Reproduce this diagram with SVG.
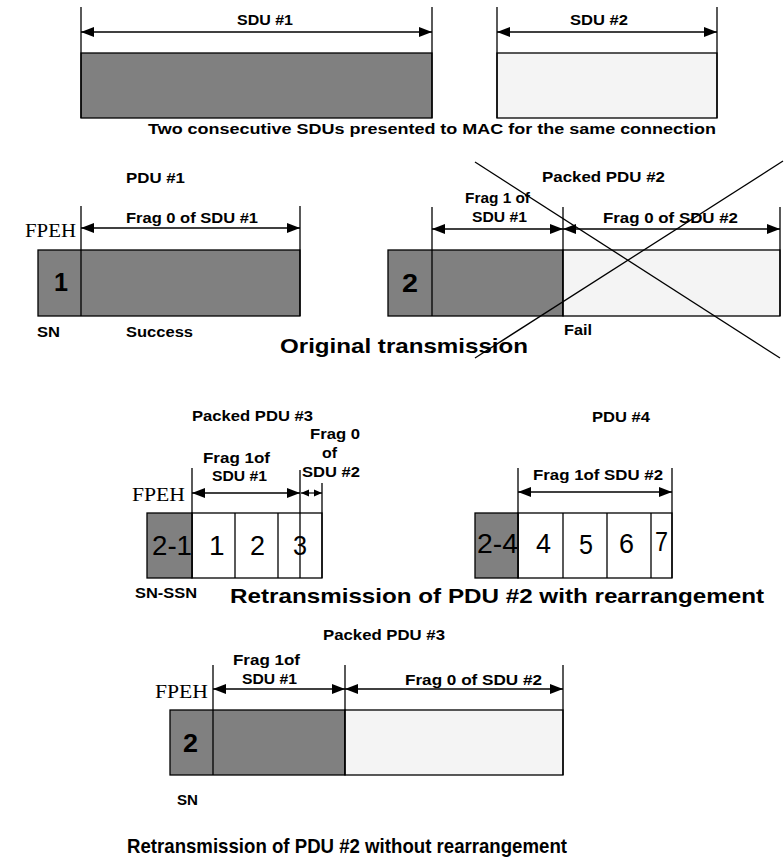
<svg xmlns="http://www.w3.org/2000/svg" width="784" height="863" viewBox="0 0 784 863">
<style>
.ln{stroke:#000;stroke-width:1.3;fill:none}
.dk{fill:#808080;stroke:#000;stroke-width:1.3}
.lt{fill:#f4f4f4;stroke:#000;stroke-width:1.3}
.wh{fill:#fff;stroke:#000;stroke-width:1.3}
.ar{stroke:#000;stroke-width:1.3;fill:none;marker-start:url(#ah);marker-end:url(#ah)}
.ars{stroke:#000;stroke-width:1.2;fill:none;marker-start:url(#ahs);marker-end:url(#ahs)}
.s{font-family:"Liberation Sans",Arial,sans-serif;font-size:14px;font-weight:bold;fill:#000}
.big{font-family:"Liberation Sans",Arial,sans-serif;font-size:21px;font-weight:bold;fill:#000}
.num{font-family:"Liberation Sans",Arial,sans-serif;font-size:26px;font-weight:bold;fill:#000}
.num2{font-family:"Liberation Sans",Arial,sans-serif;font-size:28px;fill:#000}
.ser{font-family:"Liberation Serif","Times New Roman",serif;font-size:18px;fill:#000}
</style>
<defs>
<marker id="ah" markerUnits="userSpaceOnUse" markerWidth="13" markerHeight="10" refX="13" refY="5" orient="auto-start-reverse"><path d="M0,0 L13,5 L0,10 z" fill="#000"/></marker>
<marker id="ahs" markerUnits="userSpaceOnUse" markerWidth="8" markerHeight="8" refX="8" refY="4" orient="auto-start-reverse"><path d="M0,0.5 L8,4 L0,7.5 z" fill="#000"/></marker>
</defs>

<g id="sdu1">
<rect class="dk" x="81" y="53" width="351" height="65"/>
<line class="ln" x1="81" y1="7" x2="81" y2="118"/>
<line class="ln" x1="432" y1="7" x2="432" y2="118"/>
<text class="s" x="237" y="25" textLength="56" lengthAdjust="spacingAndGlyphs">SDU #1</text>
</g>
<g id="sdu2">
<rect class="lt" x="497" y="53" width="220" height="65"/>
<line class="ln" x1="497" y1="7" x2="497" y2="118"/>
<line class="ln" x1="717" y1="7" x2="717" y2="118"/>
<text class="s" x="570" y="25" textLength="58" lengthAdjust="spacingAndGlyphs">SDU #2</text>
</g>
<text class="s" x="148" y="134" textLength="568" lengthAdjust="spacingAndGlyphs">Two consecutive SDUs presented to MAC for the same connection</text>

<g id="pdu1">
<rect class="dk" x="38" y="250" width="262" height="66"/>
<line class="ln" x1="81" y1="206" x2="81" y2="316"/>
<line class="ln" x1="300" y1="206" x2="300" y2="316"/>
<text class="s" x="126" y="183" textLength="59" lengthAdjust="spacingAndGlyphs">PDU #1</text>
<text class="s" x="126" y="223" textLength="132" lengthAdjust="spacingAndGlyphs">Frag 0 of SDU #1</text>
<text class="ser" x="25" y="237" textLength="51" lengthAdjust="spacingAndGlyphs">FPEH</text>
<text class="num" x="54" y="291" textLength="14" lengthAdjust="spacingAndGlyphs">1</text>
<text class="s" x="37" y="337" textLength="23" lengthAdjust="spacingAndGlyphs">SN</text>
<text class="s" x="126" y="337" textLength="67" lengthAdjust="spacingAndGlyphs">Success</text>
</g>

<g id="pdu2">
<rect class="dk" x="388" y="250" width="175" height="66"/>
<rect class="lt" x="563" y="250" width="217" height="66"/>
<line class="ln" x1="432" y1="207" x2="432" y2="316"/>
<line class="ln" x1="563" y1="207" x2="563" y2="316"/>
<line class="ln" x1="780" y1="207" x2="780" y2="316"/>
<text class="s" x="542" y="182" textLength="123" lengthAdjust="spacingAndGlyphs">Packed PDU #2</text>
<text class="s" x="465" y="203" textLength="65" lengthAdjust="spacingAndGlyphs">Frag 1 of</text>
<text class="s" x="472" y="222" textLength="55" lengthAdjust="spacingAndGlyphs">SDU #1</text>
<text class="s" x="603" y="223" textLength="135" lengthAdjust="spacingAndGlyphs">Frag 0 of SDU #2</text>
<text class="num" x="402" y="292" textLength="16" lengthAdjust="spacingAndGlyphs">2</text>
<text class="s" x="564" y="335" textLength="28" lengthAdjust="spacingAndGlyphs">Fail</text>
<line class="ln" x1="475" y1="162" x2="780" y2="358" stroke-width="1"/>
<line class="ln" x1="783" y1="161" x2="475" y2="358" stroke-width="1"/>
</g>
<text class="big" x="280" y="353" textLength="248" lengthAdjust="spacingAndGlyphs">Original transmission</text>

<g id="pdu3r">
<rect class="wh" x="192" y="513" width="130" height="65"/>
<rect class="dk" x="147" y="513" width="45" height="65"/>
<line class="ln" x1="192" y1="468" x2="192" y2="578"/>
<line class="ln" x1="235" y1="513" x2="235" y2="578"/>
<line class="ln" x1="278" y1="513" x2="278" y2="578"/>
<line class="ln" x1="300" y1="470" x2="300" y2="578"/>
<line class="ln" x1="322" y1="483" x2="322" y2="578"/>
<text class="s" x="192" y="421" textLength="121" lengthAdjust="spacingAndGlyphs">Packed PDU #3</text>
<text class="s" x="310" y="439" textLength="50" lengthAdjust="spacingAndGlyphs">Frag 0</text>
<text class="s" x="322" y="458" textLength="15" lengthAdjust="spacingAndGlyphs">of</text>
<text class="s" x="302" y="477" textLength="58" lengthAdjust="spacingAndGlyphs">SDU #2</text>
<text class="s" x="203" y="463" textLength="67" lengthAdjust="spacingAndGlyphs">Frag 1of</text>
<text class="s" x="212" y="481" textLength="55" lengthAdjust="spacingAndGlyphs">SDU #1</text>
<text class="ser" x="132" y="501" textLength="53" lengthAdjust="spacingAndGlyphs">FPEH</text>
<text class="num2" x="152" y="555" textLength="40" lengthAdjust="spacingAndGlyphs">2-1</text>
<text class="num2" x="209" y="555">1</text>
<text class="num2" x="250" y="555" textLength="15" lengthAdjust="spacingAndGlyphs">2</text>
<text class="num2" x="293" y="555" textLength="14" lengthAdjust="spacingAndGlyphs">3</text>
<text class="s" x="135" y="598" textLength="62" lengthAdjust="spacingAndGlyphs">SN-SSN</text>
</g>

<g id="pdu4">
<rect class="wh" x="518" y="513" width="154" height="65"/>
<rect class="dk" x="475" y="513" width="43" height="65"/>
<line class="ln" x1="518" y1="468" x2="518" y2="578"/>
<line class="ln" x1="563" y1="513" x2="563" y2="578"/>
<line class="ln" x1="607" y1="513" x2="607" y2="578"/>
<line class="ln" x1="651" y1="513" x2="651" y2="578"/>
<line class="ln" x1="672" y1="468" x2="672" y2="578"/>
<text class="s" x="592" y="422" textLength="58" lengthAdjust="spacingAndGlyphs">PDU #4</text>
<text class="s" x="533" y="480" textLength="130" lengthAdjust="spacingAndGlyphs">Frag 1of SDU #2</text>
<text class="num2" x="477" y="553" textLength="41" lengthAdjust="spacingAndGlyphs">2-4</text>
<text class="num2" x="536" y="553" textLength="15" lengthAdjust="spacingAndGlyphs">4</text>
<text class="num2" x="579" y="554" textLength="14" lengthAdjust="spacingAndGlyphs">5</text>
<text class="num2" x="619" y="553" textLength="15" lengthAdjust="spacingAndGlyphs">6</text>
<text class="num2" x="655" y="551" textLength="13" lengthAdjust="spacingAndGlyphs">7</text>
</g>
<text class="big" x="230" y="603" textLength="534" lengthAdjust="spacingAndGlyphs">Retransmission of PDU #2 with rearrangement</text>

<g id="pdu3n">
<rect class="dk" x="170" y="710" width="175" height="65"/>
<rect class="lt" x="345" y="710" width="218" height="65"/>
<line class="ln" x1="213" y1="665" x2="213" y2="775"/>
<line class="ln" x1="345" y1="665" x2="345" y2="775"/>
<line class="ln" x1="563" y1="665" x2="563" y2="775"/>
<text class="s" x="323" y="640" textLength="122" lengthAdjust="spacingAndGlyphs">Packed PDU #3</text>
<text class="s" x="233" y="665" textLength="67" lengthAdjust="spacingAndGlyphs">Frag 1of</text>
<text class="s" x="242" y="684" textLength="55" lengthAdjust="spacingAndGlyphs">SDU #1</text>
<text class="s" x="405" y="685" textLength="137" lengthAdjust="spacingAndGlyphs">Frag 0 of SDU #2</text>
<text class="ser" x="155" y="698" textLength="53" lengthAdjust="spacingAndGlyphs">FPEH</text>
<text class="num" x="183" y="752" textLength="15" lengthAdjust="spacingAndGlyphs">2</text>
<text class="s" x="177" y="805" textLength="21" lengthAdjust="spacingAndGlyphs">SN</text>
</g>
<text class="big" x="127" y="853" textLength="440" lengthAdjust="spacingAndGlyphs">Retransmission of PDU #2 without rearrangement</text>

<g id="connectors">
<line class="ar" x1="81" y1="32" x2="432" y2="32"/>
<line class="ar" x1="497" y1="32" x2="717" y2="32"/>
<line class="ar" x1="81" y1="228" x2="300" y2="228"/>
<line class="ar" x1="432" y1="229" x2="563" y2="229"/>
<line class="ar" x1="563" y1="229" x2="780" y2="229"/>
<line class="ar" x1="192" y1="493" x2="300" y2="493"/>
<line class="ars" x1="301" y1="493" x2="322" y2="493"/>
<line class="ar" x1="518" y1="492" x2="672" y2="492"/>
<line class="ar" x1="213" y1="689" x2="345" y2="689"/>
<line class="ar" x1="345" y1="689" x2="563" y2="689"/>
</g>
</svg>
